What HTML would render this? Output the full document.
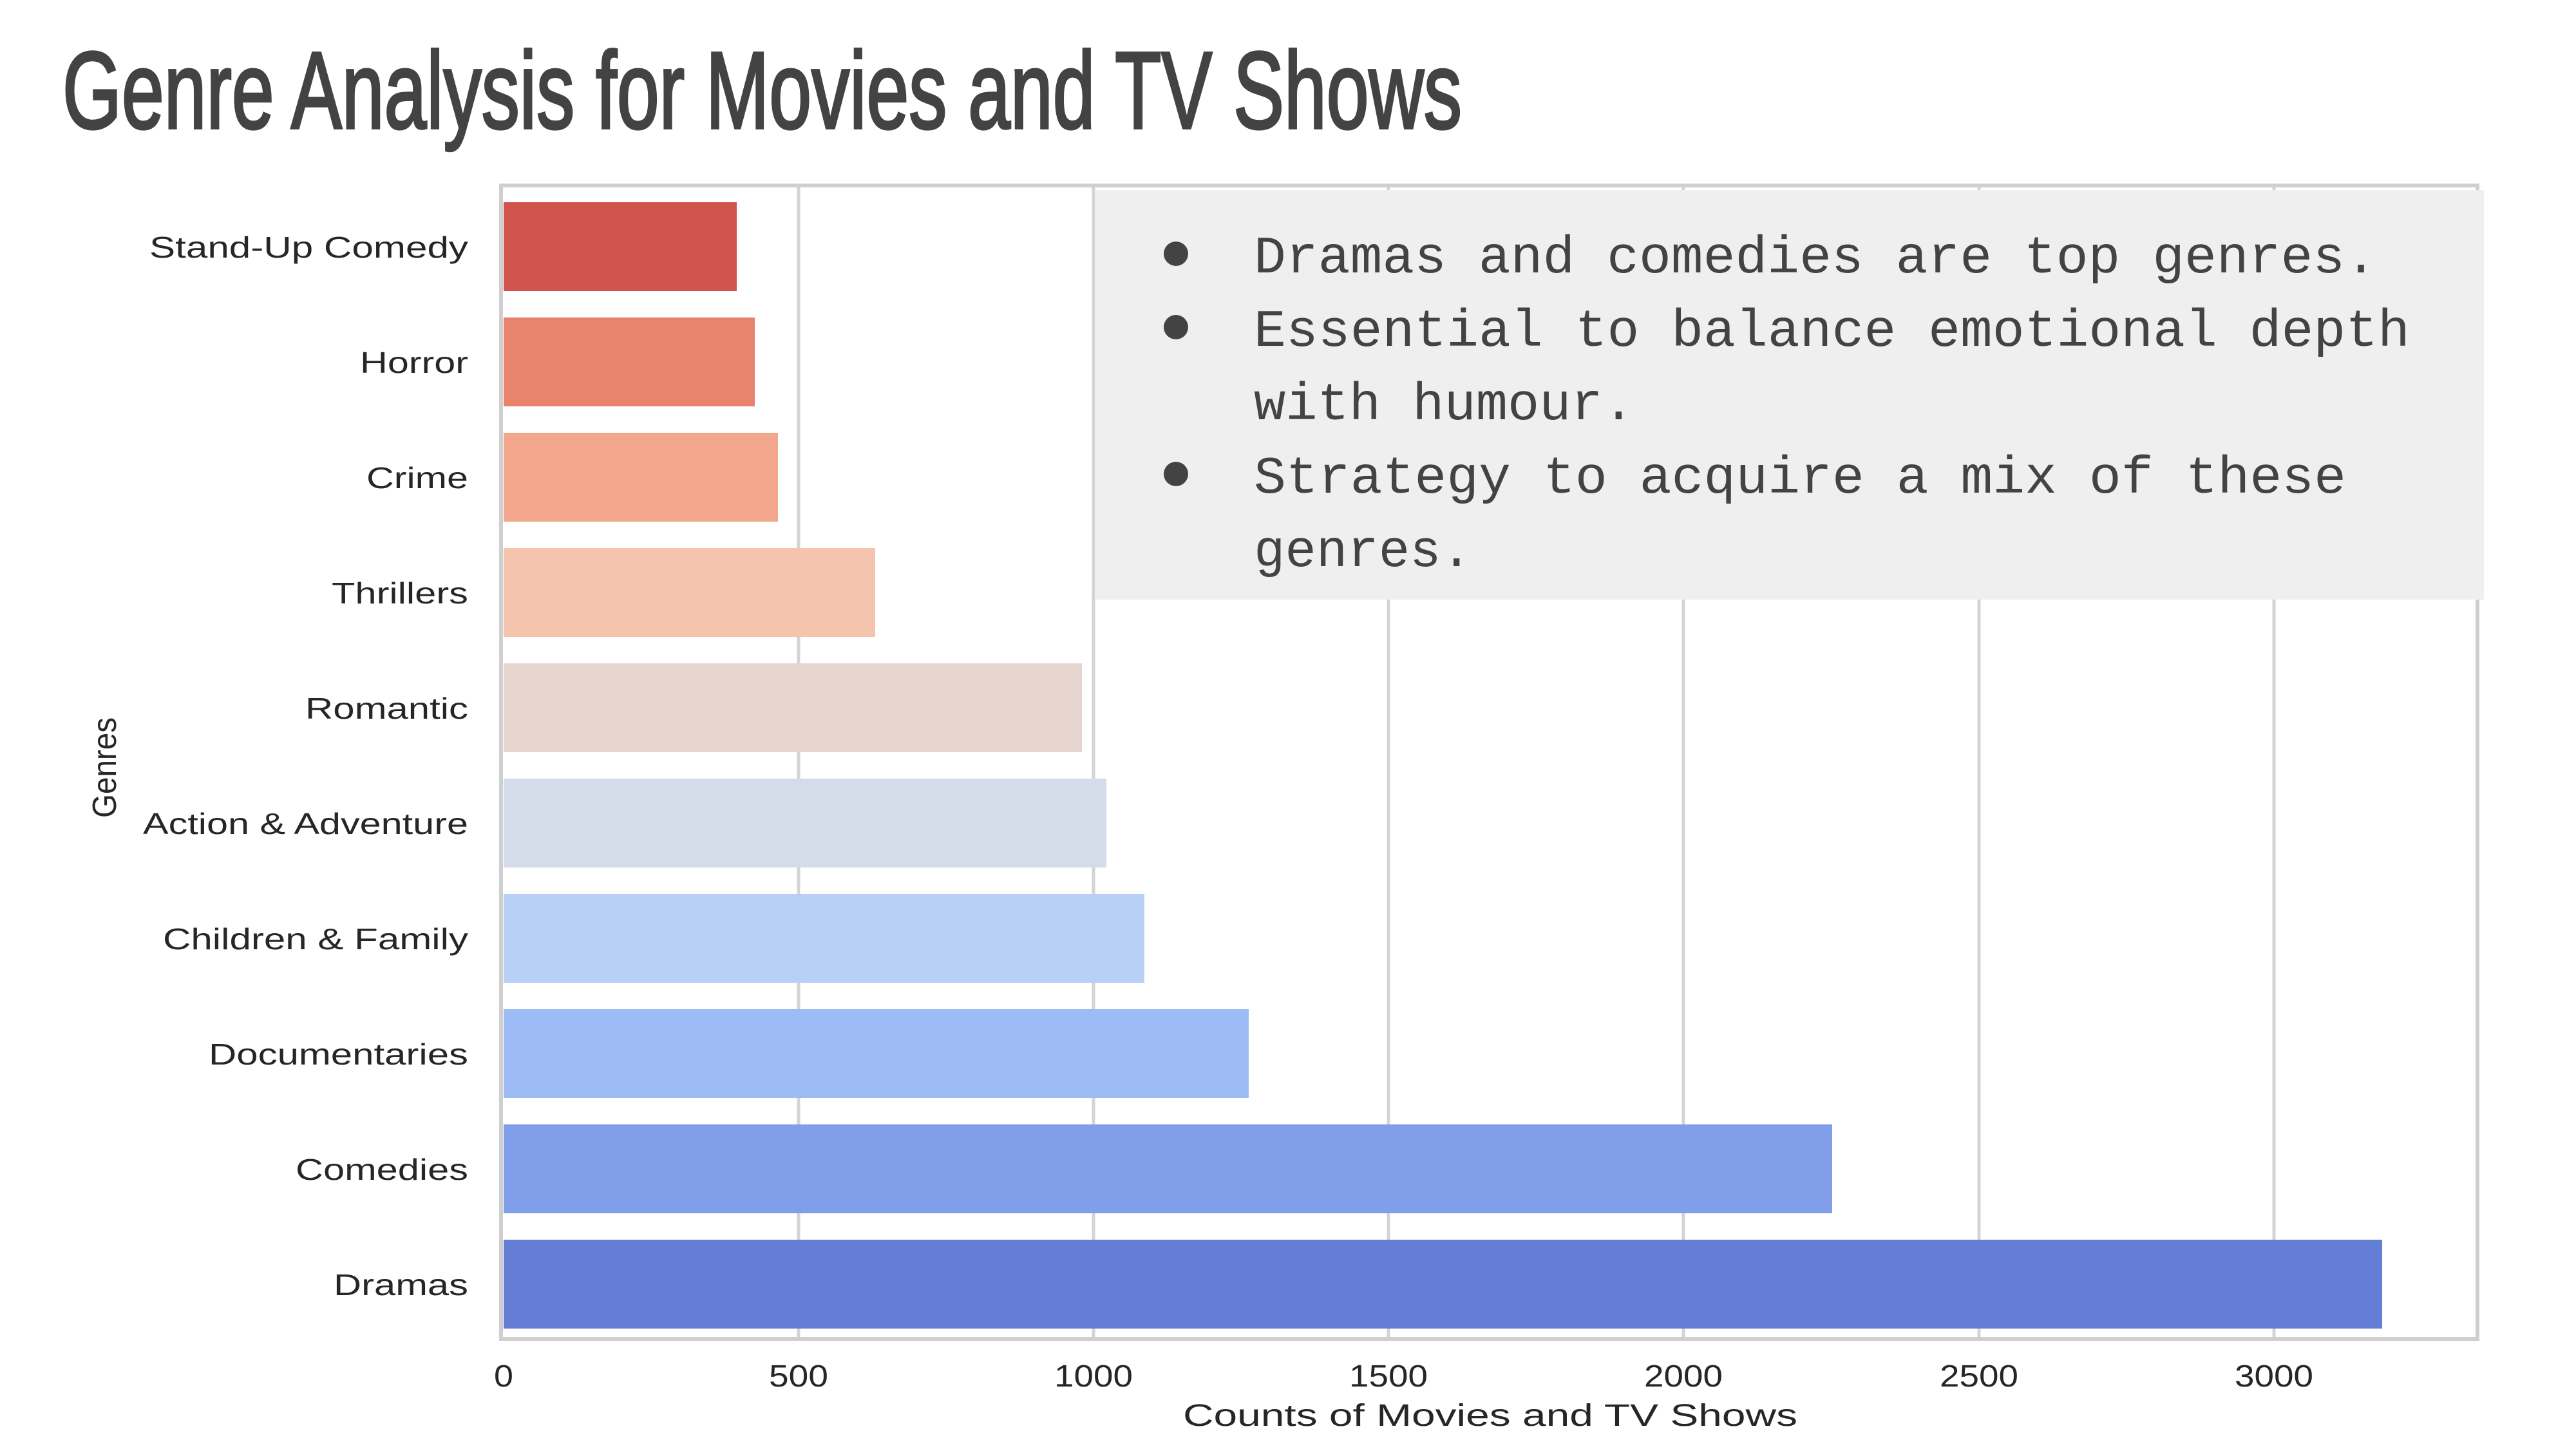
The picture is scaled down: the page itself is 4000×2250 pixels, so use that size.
<!DOCTYPE html>
<html><head><meta charset="utf-8"><style>html,body{margin:0;padding:0;background:#fff;}svg{display:block}</style></head>
<body>
<svg width="4000" height="2250" viewBox="0 0 4000 2250" xmlns="http://www.w3.org/2000/svg">
<rect width="4000" height="2250" fill="#fff"/>
<text x="97" y="199" font-family="Liberation Sans, sans-serif" font-size="170" fill="#434343" stroke="#434343" stroke-width="4" textLength="2173" lengthAdjust="spacingAndGlyphs">Genre Analysis for Movies and TV Shows</text>
<g stroke="#d4d4d4" stroke-width="5">
<line x1="1240" y1="288" x2="1240" y2="2079"/>
<line x1="1698" y1="288" x2="1698" y2="2079"/>
<line x1="2156" y1="288" x2="2156" y2="2079"/>
<line x1="2614" y1="288" x2="2614" y2="2079"/>
<line x1="3073" y1="288" x2="3073" y2="2079"/>
<line x1="3531" y1="288" x2="3531" y2="2079"/>
</g>
<rect x="778" y="288" width="3069" height="1791" fill="none" stroke="#cfcfcf" stroke-width="6"/>
<g>
<rect x="782" y="314" width="362" height="138" fill="#d1544e"/>
<rect x="782" y="493" width="390" height="138" fill="#e8836e"/>
<rect x="782" y="672" width="426" height="138" fill="#f2a68b"/>
<rect x="782" y="851" width="577" height="138" fill="#f4c4af"/>
<rect x="782" y="1030" width="898" height="138" fill="#e7d6d0"/>
<rect x="782" y="1209" width="936" height="138" fill="#d5dce9"/>
<rect x="782" y="1388" width="995" height="138" fill="#b9d0f6"/>
<rect x="782" y="1567" width="1157" height="138" fill="#9dbcf5"/>
<rect x="782" y="1746" width="2063" height="138" fill="#809eea"/>
<rect x="782" y="1925" width="2917" height="138" fill="#647ed6"/>
</g>
<g font-family="Liberation Sans, sans-serif" font-size="46" fill="#262626" text-anchor="end">
<text x="727" y="400" textLength="495" lengthAdjust="spacingAndGlyphs">Stand-Up Comedy</text>
<text x="727" y="579" textLength="168" lengthAdjust="spacingAndGlyphs">Horror</text>
<text x="727" y="758" textLength="158" lengthAdjust="spacingAndGlyphs">Crime</text>
<text x="727" y="937" textLength="212" lengthAdjust="spacingAndGlyphs">Thrillers</text>
<text x="727" y="1116" textLength="253" lengthAdjust="spacingAndGlyphs">Romantic</text>
<text x="727" y="1295" textLength="505" lengthAdjust="spacingAndGlyphs">Action &amp; Adventure</text>
<text x="727" y="1474" textLength="474" lengthAdjust="spacingAndGlyphs">Children &amp; Family</text>
<text x="727" y="1653" textLength="403" lengthAdjust="spacingAndGlyphs">Documentaries</text>
<text x="727" y="1832" textLength="268" lengthAdjust="spacingAndGlyphs">Comedies</text>
<text x="727" y="2011" textLength="209" lengthAdjust="spacingAndGlyphs">Dramas</text>
</g>
<g font-family="Liberation Sans, sans-serif" font-size="48" fill="#262626" text-anchor="middle">
<text x="782" y="2153" textLength="30" lengthAdjust="spacingAndGlyphs">0</text>
<text x="1240" y="2153" textLength="92" lengthAdjust="spacingAndGlyphs">500</text>
<text x="1698" y="2153" textLength="122" lengthAdjust="spacingAndGlyphs">1000</text>
<text x="2156" y="2153" textLength="122" lengthAdjust="spacingAndGlyphs">1500</text>
<text x="2614" y="2153" textLength="122" lengthAdjust="spacingAndGlyphs">2000</text>
<text x="3073" y="2153" textLength="122" lengthAdjust="spacingAndGlyphs">2500</text>
<text x="3531" y="2153" textLength="122" lengthAdjust="spacingAndGlyphs">3000</text>
<text x="2314" y="2214" textLength="954" lengthAdjust="spacingAndGlyphs">Counts of Movies and TV Shows</text>
<text transform="translate(180,1192) rotate(-90)" x="0" y="0" font-size="52" textLength="156" lengthAdjust="spacingAndGlyphs">Genres</text>
</g>
<rect x="1700" y="295" width="2157" height="636" fill="#efefef"/>
<g fill="#434343">
<circle cx="1826" cy="394" r="19"/>
<circle cx="1826" cy="508" r="19"/>
<circle cx="1826" cy="736" r="19"/>
</g>
<g font-family="Liberation Mono, monospace" font-size="82" fill="#434343">
<text x="1947" y="423" textLength="1744" lengthAdjust="spacingAndGlyphs">Dramas and comedies are top genres.</text>
<text x="1947" y="537" textLength="1795" lengthAdjust="spacingAndGlyphs">Essential to balance emotional depth</text>
<text x="1947" y="651" textLength="591" lengthAdjust="spacingAndGlyphs">with humour.</text>
<text x="1947" y="765" textLength="1696" lengthAdjust="spacingAndGlyphs">Strategy to acquire a mix of these</text>
<text x="1947" y="879" textLength="339" lengthAdjust="spacingAndGlyphs">genres.</text>
</g>
</svg>
</body></html>
